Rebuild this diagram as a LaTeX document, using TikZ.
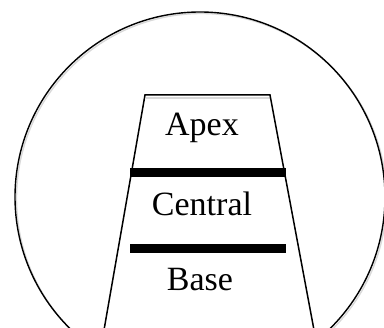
\documentclass[tikz,border=0pt]{standalone}
\usepackage{fontspec}
\setmainfont{Liberation Serif}
\begin{document}
\begin{tikzpicture}[x=1pt,y=-1pt,line join=miter,
    shade/.style={draw=black!15,line width=1.4pt},
    bar/.style={line width=5pt},
    layer/.style={font=\fontsize{34}{40}\selectfont,inner sep=0pt}]
    \useasboundingbox (0,0) rectangle (384,328);
    \clip (0,0) rectangle (384,328);
    % outer circle with its grey shadow
    \draw [shade] (201.5,198.5) circle (185);
    \draw [line width=1.4pt] (200,197) circle (185);
    % the pyramid
    \draw [shade] (146,98) -- (270,98);
    \draw [line width=1.5pt] (104,330) -- (145,95) -- (270,95) -- (314,330);
    \foreach \y in {171,247}
      \draw [shade,line width=2.5pt] (130,\y+4) -- (286,\y+4)
            [bar,draw=black] (130,\y) -- (286,\y);
    \node [layer] (apex) at (202,128) {Apex};
    \node [layer] (central) at (202,204) {Central};
    \node [layer] (base) at (200,280) {Base};
  \end{tikzpicture}
\end{document}
